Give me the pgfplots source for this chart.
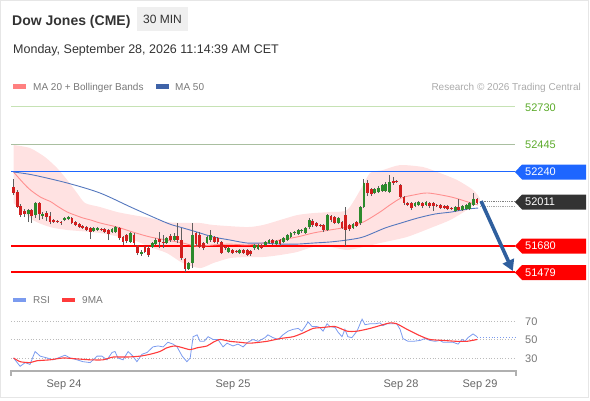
\documentclass[border=0pt]{standalone}
\usepackage{fontspec}
\setmainfont{Liberation Sans}
\usepackage{pgfplots}
\pgfplotsset{compat=1.18}
\usepackage{pgfplotstable}
\usetikzlibrary{arrows.meta}

\definecolor{ctitle}{HTML}{333333}
\definecolor{boxgray}{HTML}{EFEFEF}
\definecolor{legtext}{HTML}{777777}
\definecolor{restext}{HTML}{AAAAAA}
\definecolor{framegray}{HTML}{E6E6E6}
\definecolor{lvlgreentext}{HTML}{5BAA2A}
\definecolor{lvlA}{HTML}{C6E2B4}
\definecolor{lvlB}{HTML}{A9BFA0}
\definecolor{lvlblue}{HTML}{1E66FF}
\definecolor{tagblue}{HTML}{1E66FF}
\definecolor{tagdark}{HTML}{333333}
\definecolor{lvlred}{HTML}{FF0000}
\definecolor{arrowblue}{HTML}{2F5F9E}
\definecolor{candleup}{HTML}{2C8A2C}
\definecolor{candledn}{HTML}{D21E1E}
\definecolor{wick}{HTML}{5E5E5E}
\definecolor{bbfill}{HTML}{FFE2E2}
\definecolor{ma20}{HTML}{FF9090}
\definecolor{ma50}{HTML}{5578BE}
\definecolor{legpink}{HTML}{FF8080}
\definecolor{legnavy}{HTML}{3F63A8}
\definecolor{rsiblue}{HTML}{7B9BEF}
\definecolor{rsired}{HTML}{FF3B3B}
\definecolor{gridgray}{HTML}{BBBBBB}
\definecolor{axgray}{HTML}{B0B0B0}
\definecolor{datetext}{HTML}{666666}

\newcommand\fs[1]{\fontsize{#1bp}{#1bp}\selectfont}

% 30-minute candles: index, open, high, low, close
\pgfplotstableread{
i o h l c
0 52124 52184 52063 52078
1 52086 52101 51964 51972
2 51979 51995 51896 51911
3 51942 51957 51896 51919
4 51919 51957 51858 51949
5 51949 51957 51851 51904
6 51911 52010 51889 52002
7 52002 52010 51873 51919
8 51904 51934 51881 51919
9 51926 51942 51866 51896
10 51904 51934 51843 51858
11 51873 51881 51851 51858
12 51866 51873 51851 51858
13 51858 51866 51836 51851
14 51873 51896 51866 51889
15 51881 51904 51873 51896
16 51889 51896 51843 51851
17 51858 51866 51828 51836
18 51843 51851 51813 51820
19 51828 51836 51805 51813
20 51820 51828 51790 51798
21 51813 51820 51729 51782
22 51790 51820 51782 51813
23 51798 51820 51790 51813
24 51805 51813 51790 51798
25 51805 51813 51775 51782
26 51798 51805 51722 51767
27 51782 51813 51775 51805
28 51782 51828 51775 51820
29 51813 51820 51722 51737
30 51745 51752 51684 51707
31 51760 51767 51699 51714
32 51707 51782 51699 51775
33 51760 51775 51684 51699
34 51676 51684 51608 51623
35 51616 51646 51601 51631
36 51669 51676 51623 51631
37 51661 51676 51593 51608
38 51669 51707 51661 51699
39 51691 51737 51684 51722
40 51729 51782 51661 51707
41 51707 51760 51661 51699
42 51699 51745 51691 51737
43 51752 51767 51707 51722
44 51722 51775 51714 51752
45 51752 51851 51699 51722
46 51722 51813 51570 51585
47 51578 51585 51479 51502
48 51502 51555 51495 51547
49 51547 51851 51509 51760
50 51775 51782 51676 51691
51 51760 51782 51661 51669
52 51699 51707 51646 51661
53 51699 51752 51691 51745
54 51722 51798 51707 51760
55 51745 51752 51699 51707
56 51737 51745 51691 51707
57 51707 51714 51616 51623
58 51669 51676 51646 51661
59 51631 51669 51623 51661
60 51646 51654 51616 51623
61 51639 51646 51623 51631
62 51623 51654 51616 51646
63 51646 51654 51616 51623
64 51646 51654 51601 51608
65 51639 51646 51601 51616
66 51661 51691 51646 51684
67 51654 51691 51646 51684
68 51684 51691 51654 51661
69 51684 51714 51676 51707
70 51699 51729 51691 51722
71 51722 51729 51684 51699
72 51691 51722 51684 51714
73 51722 51729 51676 51691
74 51707 51745 51699 51737
75 51722 51767 51714 51760
76 51745 51782 51737 51775
77 51775 51790 51760 51782
78 51767 51805 51760 51798
79 51790 51805 51775 51798
80 51775 51820 51767 51813
81 51820 51889 51805 51873
82 51866 51881 51820 51836
83 51851 51858 51820 51828
84 51836 51843 51820 51828
85 51836 51843 51782 51798
86 51798 51919 51790 51911
87 51904 51911 51858 51873
88 51896 51904 51843 51851
89 51851 51896 51843 51889
90 51858 51866 51805 51813
91 51911 51972 51676 51798
92 51836 51843 51790 51805
93 51813 51851 51805 51843
94 51858 51866 51820 51828
95 51851 51979 51836 51972
96 51972 52184 51964 52154
97 52154 52177 52055 52078
98 52108 52116 52055 52070
99 52078 52116 52070 52108
100 52086 52131 52078 52116
101 52093 52146 52086 52139
102 52093 52161 52086 52146
103 52086 52215 52078 52161
104 52169 52199 52139 52154
105 52169 52177 52154 52161
106 52139 52146 52040 52048
107 52048 52055 51987 52002
108 52002 52010 51979 51987
109 52002 52010 51949 51964
110 51979 52010 51972 52002
111 51987 52017 51979 52010
112 52002 52010 51964 51979
113 51987 52017 51979 52010
114 52002 52010 51964 51979
115 52002 52010 51942 51979
116 51987 51995 51972 51979
117 51987 51995 51957 51964
118 51979 51987 51957 51964
119 51979 51987 51949 51957
120 51964 51972 51949 51957
121 51942 51979 51934 51972
122 51972 52033 51942 51949
123 51949 51987 51942 51979
124 51957 51995 51949 51987
125 51957 52010 51949 52002
126 51987 52078 51979 52033
127 52033 52040 51995 52002
}\candles

\begin{document}
\begin{tikzpicture}[x=1bp,y=1bp]

% ---------- price panel ----------
\begin{axis}[at={(11bp,122bp)}, anchor=south west, scale only axis,
  width=504bp, height=178bp, xmin=-0.7, xmax=137.4, ymin=51434, ymax=52783,
  hide axis, clip=false]

% Bollinger bands (upper band left to right, lower band right to left)
\addplot[fill=bbfill, draw=none, smooth, tension=0.4, forget plot] coordinates {
(0,52442) (4.5,52419) (8.6,52351) (11.9,52268) (14.7,52177) (17.4,52078) (19.6,52002)
(23.7,51972) (28.4,51934) (32.7,51911) (37.4,51889) (42,51858) (46.4,51851) (51.1,51851)
(54.7,51836) (64,51820) (68.4,51836) (73,51873) (77.7,51911) (82.1,51926) (86.7,51934)
(91.4,51949) (95,52101) (97.7,52230) (101.2,52252) (105.9,52290) (112.2,52275)
(116.8,52230) (121.5,52177) (125.9,52101) (127.8,52025)
(124.2,51949) (119.6,51873) (114.9,51820) (107.8,51745) (100.4,51699) (95.8,51669)
(91.4,51646) (86.7,51669) (82.1,51669) (77.7,51631) (73,51608) (68.4,51593) (64,51593)
(59.3,51585) (54.7,51547) (51.1,51509) (46.4,51547) (42,51623) (37.4,51669) (32.7,51722)
(23.7,51775) (14.7,51798) (10,51820) (5.3,51873) (0,52002)} -- cycle;

% levels
\addplot[lvlA, line width=1bp, forget plot] coordinates {(-0.7,52730) (137.4,52730)};
\addplot[lvlB, line width=1bp, forget plot] coordinates {(-0.7,52445) (137.4,52445)};
\addplot[lvlblue, line width=1.5bp, forget plot] coordinates {(-0.7,52240) (137.4,52240)};
\addplot[lvlred, line width=2bp, forget plot] coordinates {(-0.7,51680) (137.4,51680)};
\addplot[lvlred, line width=2bp, forget plot] coordinates {(-0.7,51479) (137.4,51479)};

% moving averages
\addplot[ma20, line width=0.9bp, smooth, tension=0.5, forget plot] coordinates {
(0,52237) (4,52116) (7.5,52045) (10,52015) (12.2,51975) (14.7,51934) (16.8,51911)
(19,51889) (21.2,51873) (23.7,51851) (28.4,51820) (32.7,51782) (37.4,51745) (42,51722)
(46.4,51699) (50.3,51675) (54.7,51684) (59.3,51691) (64,51684) (68.4,51699) (73,51722)
(77.7,51745) (82.1,51775) (86.7,51798) (91.4,51820) (95.8,51858) (100.4,51934)
(103,51985) (106.2,52040) (110,52065) (113.6,52078) (119.9,52048) (124.5,52010) (127.3,51987)};
\addplot[ma50, line width=0.9bp, smooth, tension=0.5, forget plot] coordinates {
(0,52237) (5.3,52215) (14.7,52154) (23.7,52078) (32.7,51964) (42,51851) (45.6,51820)
(50.3,51782) (54.7,51745) (59.3,51722) (64,51699) (68.4,51699) (73,51691) (77.7,51691)
(82.1,51699) (86.7,51707) (91.4,51722) (95.8,51745) (101.8,51813) (106.2,51851)
(110.8,51889) (115.5,51919) (119.9,51934) (124.5,51957) (127.3,51964)};

% candle wicks: low to high
\addplot[wick, line width=0.9bp, forget plot,
  quiver={u=0, v=\thisrow{h}-\thisrow{l}}]
  table[x=i, y=l] {\candles};
% candle bodies: open to close, green if close > open, red otherwise
\addplot[line width=2.8bp, forget plot,
  point meta=\thisrow{c}-\thisrow{o}, point meta min=-1, point meta max=1,
  colormap={updown}{color=(candledn) color=(candleup)},
  quiver={u=0, v=\thisrow{c}-\thisrow{o}, colored}]
  table[x=i, y=o] {\candles};

% last price dotted lines
\addplot[gray, densely dotted, line width=0.8bp, forget plot] coordinates {(127.8,52011) (137.4,52011)};
\addplot[gray!70, densely dotted, line width=0.8bp, forget plot] coordinates {(127.8,51975) (137.4,51975)};

% forecast arrow
\draw[arrowblue, line width=3.6bp, -{Triangle[length=11bp,width=12bp]}]
  (axis cs:128.1,52017) -- (axis cs:136.8,51487);
\end{axis}

% ---------- RSI panel ----------
\begin{axis}[at={(11bp,29bp)}, anchor=south west, scale only axis,
  width=504bp, height=61bp, xmin=-0.7, xmax=137.4, ymin=15.9, ymax=81.9,
  hide axis, clip=false]
\addplot[gridgray, dotted, line width=0.8bp, forget plot] coordinates {(-0.7,70) (137.4,70)};
\addplot[gridgray, dotted, line width=0.8bp, forget plot] coordinates {(-0.7,50) (137.4,50)};
\addplot[gridgray, dotted, line width=0.8bp, forget plot] coordinates {(-0.7,30) (137.4,30)};
\addplot[rsiblue, line width=0.8bp, forget plot] coordinates {
(0,30) (1.8,21) (3.2,25) (4.5,23) (5.9,37) (7.3,32) (9.2,30) (10.8,28) (12.2,30) (14.1,33)
(15.5,30) (17.4,28) (19,26) (21,25) (22.9,32) (24.2,32) (25.6,28) (27,36) (27.8,37) (28.6,30)
(30,28) (31.4,37) (32.7,32) (33.8,26) (35.2,34) (36.6,36) (38.2,42) (39.6,43) (41,42) (42.3,47)
(43.7,45) (44.8,42) (46.2,32) (47.5,26) (48.4,30) (49.2,53) (50.3,55) (51.1,48) (52.2,48)
(53.3,53) (54.7,50) (56,50) (57.4,42) (58.5,46) (60.1,43) (61.5,45) (62.9,42) (64.2,47)
(65.6,50) (67,48) (68.9,52) (69.7,55) (71.1,52) (72.5,50) (73.8,55) (75.2,59) (76.6,61)
(78,62) (79,59) (79.9,64) (80.7,69) (81.8,64) (83.1,64) (83.9,63) (84.8,59) (85.9,67)
(86.7,64) (88.1,63) (88.9,58) (90,53) (90.8,61) (91.6,53) (92.7,52) (94.1,59) (95.5,72)
(96.3,66) (97.7,67) (99.1,67) (100.4,68) (101.2,65) (102.3,67) (103.7,67) (105,67) (105.9,61)
(106.7,51) (108.1,48) (109.5,48) (111.4,49) (112.7,51) (114.1,49) (115.5,48) (116.8,49)
(117.7,47) (119,47) (120.4,47) (121.8,45) (122.9,50) (123.7,48) (124.5,52) (125.9,56) (127,53)};
\addplot[rsiblue, dotted, line width=0.9bp, forget plot] coordinates {(127,52) (138,52)};
\addplot[rsired, line width=1.1bp, smooth, tension=0.4, forget plot] coordinates {
(0,30) (1.8,26) (4.5,25) (6.4,27) (10,28) (13.6,30) (17.4,29) (21,28) (24.5,28) (27.3,31)
(31.1,31) (34.7,32) (37.4,34) (40.1,37) (42,41) (44.2,43) (46.4,41) (48.4,39) (50.3,41)
(53,43) (54.7,47) (56.6,50) (59.3,48) (62,47) (64.8,46) (69.4,48) (73,51) (76.6,53) (79.3,57)
(82.1,62) (84.8,63) (88.1,64) (91.4,59) (94.1,59) (97.7,62) (101.2,66) (103.2,68) (105,67)
(107.8,61) (111.4,54) (114.1,50) (117.7,49) (121.5,48) (124.2,48) (127,50)};
\end{axis}

% ---------- annotations in pixel coordinates (origin top left) ----------
\begin{scope}[shift={(0,400)}, y=-1bp]
\draw[framegray, line width=1bp] (0.5,0.5) rectangle (588.5,397.5);

% header
\node[anchor=base west, inner sep=0, font=\fs{14}\bfseries, text=ctitle] at (12,25) {Dow Jones (CME)};
\fill[boxgray] (137,7) rectangle (188,31);
\node[anchor=base, inner sep=0, font=\fs{12}, text=ctitle] at (162.5,23.3) {30 MIN};
\node[anchor=base west, inner sep=0, font=\fs{12.5}, text=ctitle] at (13,53.3) {Monday, September 28, 2026 11:14:39 AM CET};

% legend
\fill[legpink] (13,84) rectangle (26,89);
\node[anchor=base west, inner sep=0, font=\fs{10}, text=legtext] at (33,90) {MA 20 + Bollinger Bands};
\fill[legnavy] (156,84) rectangle (169,89);
\node[anchor=base west, inner sep=0, font=\fs{10}, text=legtext] at (175,90) {MA 50};
\node[anchor=base east, inner sep=0, font=\fs{10}, text=restext] at (581,90) {Research © 2026 Trading Central};

% price tags
\node[anchor=west, inner sep=0, font=\fs{11}, text=lvlgreentext] at (525,107.5) {52730};
\node[anchor=west, inner sep=0, font=\fs{11}, text=lvlgreentext] at (525,145) {52445};
\fill[tagblue] (515,172) -- (522,164.5) -- (586,164.5) -- (586,179.5) -- (522,179.5) -- cycle;
\node[anchor=west, inner sep=0, font=\fs{11}, text=white] at (525,172) {52240};
\fill[tagdark] (515,202) -- (522,194.5) -- (586,194.5) -- (586,209.5) -- (522,209.5) -- cycle;
\node[anchor=west, inner sep=0, font=\fs{11}, text=white] at (525,202) {52011};
\fill[lvlred] (515,246) -- (522,238.5) -- (586,238.5) -- (586,253.5) -- (522,253.5) -- cycle;
\node[anchor=west, inner sep=0, font=\fs{11}, text=white] at (525,246) {51680};
\fill[lvlred] (515,272.5) -- (522,265) -- (586,265) -- (586,280) -- (522,280) -- cycle;
\node[anchor=west, inner sep=0, font=\fs{11}, text=white] at (525,272.5) {51479};

% RSI legend
\fill[rsiblue] (13,297.5) rectangle (26,302);
\node[anchor=base west, inner sep=0, font=\fs{10}, text=legtext] at (33,303) {RSI};
\fill[rsired] (62,297.5) rectangle (75,302);
\node[anchor=base west, inner sep=0, font=\fs{10}, text=legtext] at (82,303) {9MA};

% RSI scale labels
\node[anchor=west, inner sep=0, font=\fs{11}, text=legtext] at (525,321.5) {70};
\node[anchor=west, inner sep=0, font=\fs{11}, text=legtext] at (525,340) {50};
\node[anchor=west, inner sep=0, font=\fs{11}, text=legtext] at (525,358.5) {30};

% time axis
\draw[axgray, line width=1.3bp] (11,376) -- (11,371) -- (516,371) -- (516,376);
\node[anchor=base, inner sep=0, font=\fs{11}, text=datetext] at (64,387) {Sep 24};
\node[anchor=base, inner sep=0, font=\fs{11}, text=datetext] at (233,387) {Sep 25};
\node[anchor=base, inner sep=0, font=\fs{11}, text=datetext] at (401,387) {Sep 28};
\node[anchor=base, inner sep=0, font=\fs{11}, text=datetext] at (480,387) {Sep 29};
\end{scope}

\pgfresetboundingbox
\path[use as bounding box] (0,0) rectangle (590,400);
\end{tikzpicture}
\end{document}
